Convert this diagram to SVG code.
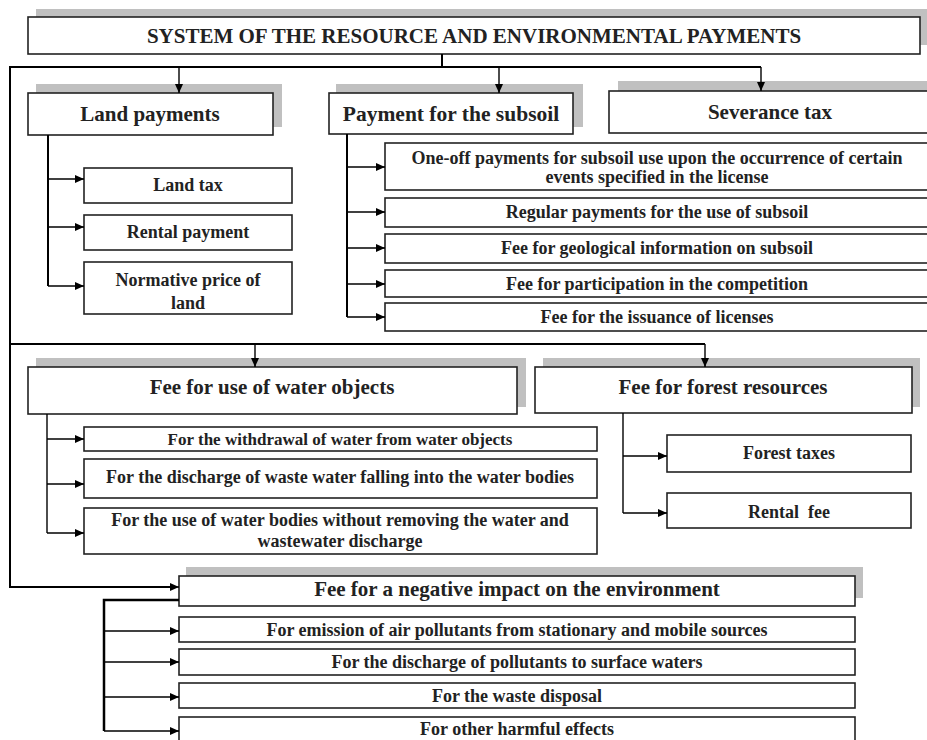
<svg xmlns="http://www.w3.org/2000/svg" width="927" height="740" viewBox="0 0 927 740">
<defs>
<marker id="ah" markerWidth="9" markerHeight="8" refX="9" refY="4" orient="auto" markerUnits="userSpaceOnUse"><path d="M0,0 L9,4 L0,8 z" fill="#000"/></marker>
<style>
.sh{fill:#c0c0c0;stroke:none}
.bx{fill:#fff;stroke:#222;stroke-width:1.6}
.t{font-family:"Liberation Serif","Times New Roman",serif;font-weight:bold;fill:#222;text-anchor:middle}
.big{font-size:21px}
.hd{font-size:21px}
.sm{font-size:18px}
.xs{font-size:17px}
.fr{fill:none;stroke:#000;stroke-width:2}
.cn{fill:none;stroke:#000;stroke-width:1.4}
.ar{fill:none;stroke:#000;stroke-width:1.4;marker-end:url(#ah)}
</style>
</defs>
<rect width="927" height="740" fill="#fff"/>

<g id="header">
<rect class="sh" x="36" y="9" width="900" height="36"/>
<rect class="bx" x="28" y="17" width="892" height="37"/>
<text class="t hd" x="474" y="43">SYSTEM OF THE RESOURCE AND ENVIRONMENTAL PAYMENTS</text>
</g>

<g id="land-payments">
<rect class="sh" x="36" y="84" width="246" height="43"/>
<rect class="bx" x="28" y="93" width="245" height="42"/>
<text class="t big" x="150" y="121">Land payments</text>
</g>
<g id="land-tax">
<rect class="bx" x="84" y="168" width="208" height="35"/>
<text class="t sm" x="188" y="191">Land tax</text>
</g>
<g id="rental-payment">
<rect class="bx" x="84" y="215" width="208" height="35"/>
<text class="t sm" x="188" y="238">Rental payment</text>
</g>
<g id="normative-price">
<rect class="bx" x="84" y="262" width="208" height="52"/>
<text class="t sm" x="188" y="286">Normative price of</text>
<text class="t sm" x="188" y="309">land</text>
</g>

<g id="subsoil">
<rect class="sh" x="336" y="84" width="247" height="43"/>
<rect class="bx" x="329" y="93" width="244" height="41"/>
<text class="t big" x="451" y="121" style="font-size:21.5px">Payment for the subsoil</text>
</g>
<g id="one-off">
<rect class="bx" x="385" y="143" width="560" height="47"/>
<text class="t sm" x="657" y="164">One-off payments for subsoil use upon the occurrence of certain</text>
<text class="t sm" x="657" y="183">events specified in the license</text>
</g>
<g id="regular">
<rect class="bx" x="385" y="198" width="560" height="29"/>
<text class="t sm" x="657" y="218">Regular payments for the use of subsoil</text>
</g>
<g id="geological">
<rect class="bx" x="385" y="234" width="560" height="29"/>
<text class="t sm" x="657" y="254">Fee for geological information on subsoil</text>
</g>
<g id="participation">
<rect class="bx" x="385" y="270" width="560" height="27"/>
<text class="t sm" x="657" y="290">Fee for participation in the competition</text>
</g>
<g id="issuance">
<rect class="bx" x="385" y="303" width="560" height="28"/>
<text class="t sm" x="657" y="323">Fee for the issuance of licenses</text>
</g>

<g id="severance">
<rect class="sh" x="618" y="81" width="320" height="43"/>
<rect class="bx" x="609" y="91" width="330" height="42"/>
<text class="t big" x="770" y="119">Severance tax</text>
</g>

<g id="water">
<rect class="sh" x="36" y="358" width="490" height="49"/>
<rect class="bx" x="28" y="367" width="489" height="47"/>
<text class="t big" x="272" y="394">Fee for use of water objects</text>
</g>
<g id="withdrawal">
<rect class="bx" x="84" y="427" width="513" height="24"/>
<text class="t xs" x="340" y="445">For the withdrawal of water from water objects</text>
</g>
<g id="discharge-waste">
<rect class="bx" x="84" y="459" width="513" height="39"/>
<text class="t sm" x="340" y="483">For the discharge of waste water falling into the water bodies</text>
</g>
<g id="use-water">
<rect class="bx" x="84" y="508" width="513" height="46"/>
<text class="t sm" x="340" y="526">For the use of water bodies without removing the water and</text>
<text class="t sm" x="340" y="547">wastewater discharge</text>
</g>

<g id="forest">
<rect class="sh" x="543" y="358" width="377" height="49"/>
<rect class="bx" x="535" y="367" width="377" height="46"/>
<text class="t big" x="723" y="394">Fee for forest resources</text>
</g>
<g id="forest-taxes">
<rect class="bx" x="667" y="435" width="244" height="37"/>
<text class="t sm" x="789" y="459">Forest taxes</text>
</g>
<g id="rental-fee">
<rect class="bx" x="667" y="493" width="244" height="35"/>
<text class="t sm" x="789" y="518" xml:space="preserve">Rental  fee</text>
</g>

<g id="negative-impact">
<rect class="sh" x="186" y="567" width="677" height="31"/>
<rect class="bx" x="179" y="576" width="676" height="30"/>
<text class="t big" x="517" y="596">Fee for a negative impact on the environment</text>
</g>
<g id="emission">
<rect class="bx" x="179" y="617" width="676" height="25"/>
<text class="t sm" x="517" y="636">For emission of air pollutants from stationary and mobile sources</text>
</g>
<g id="discharge-pollutants">
<rect class="bx" x="179" y="649" width="676" height="26"/>
<text class="t sm" x="517" y="668">For the discharge of pollutants to surface waters</text>
</g>
<g id="waste">
<rect class="bx" x="179" y="683" width="676" height="25"/>
<text class="t sm" x="517" y="702">For the waste disposal</text>
</g>
<g id="other">
<rect class="bx" x="179" y="717" width="676" height="30"/>
<text class="t sm" x="517" y="735">For other harmful effects</text>
</g>

<g id="connectors">
<path class="fr" d="M442,54 V67"/>
<path class="fr" d="M761,67 H10 V344 H705"/>
<path class="fr" d="M10,344 V587 H170"/>
<path class="ar" d="M170,587 H179"/>
<path class="ar" d="M179,67 V93"/>
<path class="ar" d="M499,67 V93"/>
<path class="ar" d="M761,67 V91"/>
<path class="ar" d="M255,344 V367"/>
<path class="ar" d="M705,344 V367"/>
<path class="fr" d="M48,135 V286"/>
<path class="ar" d="M48,179 H84"/>
<path class="ar" d="M48,227 H84"/>
<path class="ar" d="M48,286 H84"/>
<path class="fr" d="M347,134 V317"/>
<path class="ar" d="M347,167 H385"/>
<path class="ar" d="M347,212 H385"/>
<path class="ar" d="M347,248 H385"/>
<path class="ar" d="M347,284 H385"/>
<path class="ar" d="M347,317 H385"/>
<path class="cn" d="M47,414 V533"/>
<path class="ar" d="M47,439 H84"/>
<path class="ar" d="M47,484 H84"/>
<path class="ar" d="M47,533 H84"/>
<path class="cn" d="M623,413 V513"/>
<path class="ar" d="M623,456 H667"/>
<path class="ar" d="M623,513 H667"/>
<path class="fr" d="M179,600 H104 V731" style="stroke-width:2.5"/>
<path class="ar" d="M104,631 H179"/>
<path class="ar" d="M104,662 H179"/>
<path class="ar" d="M104,697 H179"/>
<path class="ar" d="M104,731 H179"/>
</g>
</svg>
